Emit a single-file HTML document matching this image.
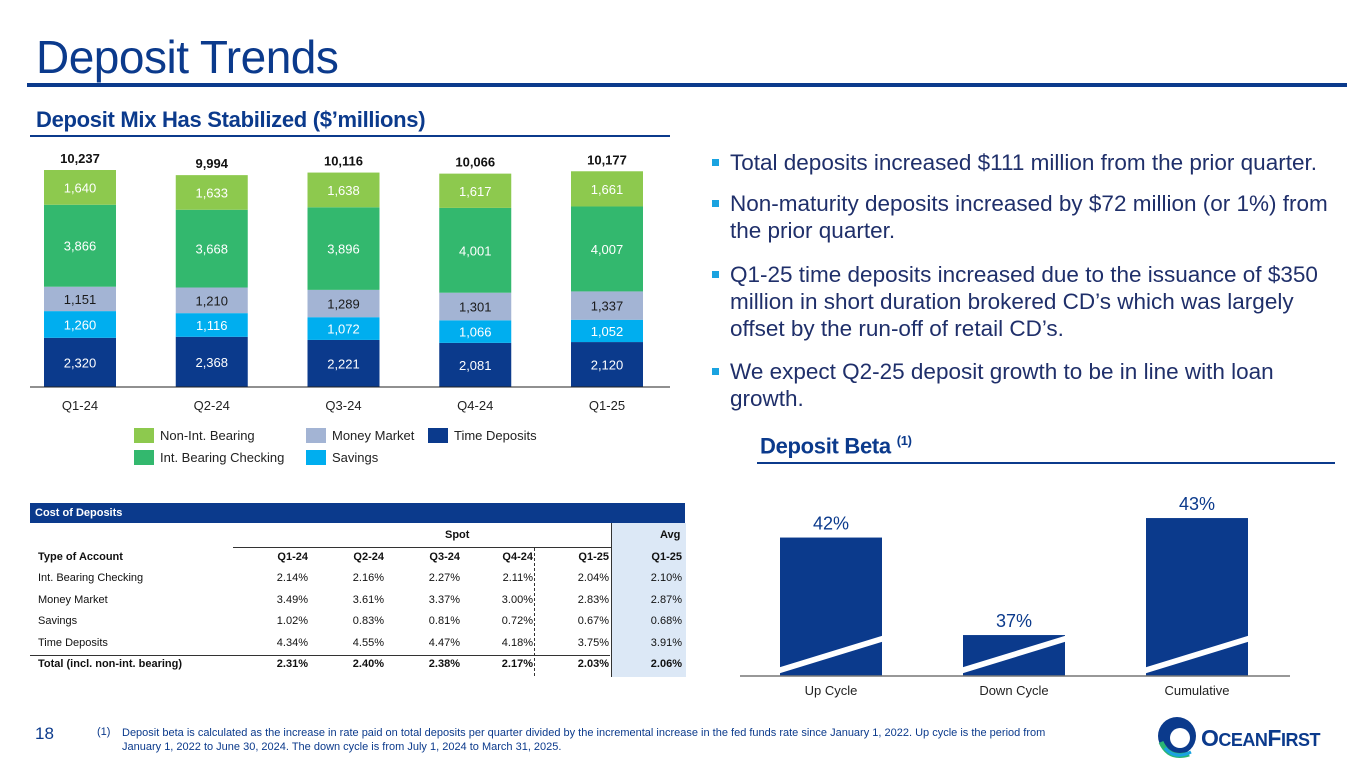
<!DOCTYPE html>
<html><head><meta charset="utf-8">
<style>
body{margin:0;width:1365px;height:768px;position:relative;background:#fff;font-family:"Liberation Sans",Arial,sans-serif;overflow:hidden;color:#1a2f6b}
.abs{position:absolute}
.title{left:36px;top:30px;font-size:46px;color:#0b3a8c;letter-spacing:-0.5px}
.sub{font-weight:bold;font-size:22px;color:#0b3a8c;letter-spacing:-0.3px}
.bul{position:absolute;left:712px;font-size:22.5px;color:#1f2f6a;line-height:27px;width:630px}
.bul .sq{position:absolute;left:0;top:10px;width:7px;height:7px;background:#1aa3e0}
.bul p{margin:0 0 0 18px}
table{border-collapse:collapse;font-size:11px;color:#111;table-layout:fixed}
td{padding:0;height:21.5px;text-align:right;white-space:nowrap}
</style></head><body>
<div class="abs title">Deposit Trends</div>
<div class="abs" style="left:27px;top:83px;width:1320px;height:4px;background:#0b3a8c"></div>
<div class="abs sub" style="left:36px;top:107px">Deposit Mix Has Stabilized ($’millions)</div>
<div class="abs" style="left:30px;top:135px;width:640px;height:2px;background:#0b3a8c"></div>

<svg id="mix" class="abs" style="left:0;top:0" width="700" height="480"></svg>

<div class="bul" style="top:149px"><span class="sq"></span><p>Total deposits increased $111 million from the prior quarter.</p></div>
<div class="bul" style="top:190px"><span class="sq"></span><p>Non-maturity deposits increased by $72 million (or 1%) from the prior quarter.</p></div>
<div class="bul" style="top:261px"><span class="sq"></span><p>Q1-25 time deposits increased due to the issuance of $350 million in short duration brokered CD’s which was largely offset by the run-off of retail CD’s.</p></div>
<div class="bul" style="top:358px"><span class="sq"></span><p>We expect Q2-25 deposit growth to be in line with loan growth.</p></div>

<div class="abs sub" style="left:760px;top:433px">Deposit Beta <sup style="font-size:13px">(1)</sup></div>
<div class="abs" style="left:757px;top:462px;width:578px;height:2px;background:#0b3a8c"></div>
<svg id="beta" class="abs" style="left:740px;top:480px" width="600" height="225"></svg>

<div class="abs" style="left:30px;top:503px;width:655px;height:20px;background:#0b3a8c;color:#fff;font-weight:bold;font-size:11px;line-height:20px;padding-left:5px;box-sizing:border-box">Cost of Deposits</div>
<div class="abs" style="left:611px;top:523px;width:74px;height:154px;background:#dce8f6;border-left:1px solid #333"></div>
<div class="abs" style="left:534px;top:548px;width:0;height:128px;border-left:1px dashed #333"></div>
<div class="abs" style="left:233px;top:547px;width:378px;height:1px;background:#333"></div>
<div class="abs" style="left:30px;top:655px;width:580px;height:1px;background:#333"></div>
<div class="abs" style="left:445px;top:529px;font-size:11px;font-weight:bold;color:#111">Spot</div>
<div class="abs" style="left:660px;top:529px;font-size:11px;font-weight:bold;color:#111">Avg</div>
<table class="abs" style="left:38px;top:546px;width:644px">
<colgroup><col style="width:195px"><col style="width:75px"><col style="width:76px"><col style="width:76px"><col style="width:73px"><col style="width:76px"><col style="width:73px"></colgroup>
<tr style="font-weight:bold"><td style="text-align:left">Type of Account</td><td>Q1-24</td><td>Q2-24</td><td>Q3-24</td><td>Q4-24</td><td>Q1-25</td><td>Q1-25</td></tr>
<tr><td style="text-align:left">Int. Bearing Checking</td><td>2.14%</td><td>2.16%</td><td>2.27%</td><td>2.11%</td><td>2.04%</td><td>2.10%</td></tr>
<tr><td style="text-align:left">Money Market</td><td>3.49%</td><td>3.61%</td><td>3.37%</td><td>3.00%</td><td>2.83%</td><td>2.87%</td></tr>
<tr><td style="text-align:left">Savings</td><td>1.02%</td><td>0.83%</td><td>0.81%</td><td>0.72%</td><td>0.67%</td><td>0.68%</td></tr>
<tr><td style="text-align:left">Time Deposits</td><td>4.34%</td><td>4.55%</td><td>4.47%</td><td>4.18%</td><td>3.75%</td><td>3.91%</td></tr>
<tr style="font-weight:bold"><td style="text-align:left">Total (incl. non-int. bearing)</td><td>2.31%</td><td>2.40%</td><td>2.38%</td><td>2.17%</td><td>2.03%</td><td>2.06%</td></tr>
</table>

<div class="abs" style="left:35px;top:724px;font-size:17px;color:#0b3a8c">18</div>
<div class="abs" style="left:97px;top:726px;font-size:11px;color:#0b3a8c">(1)</div>
<div class="abs" style="left:122px;top:726px;width:955px;font-size:11px;line-height:14px;color:#0b3a8c">Deposit beta is calculated as the increase in rate paid on total deposits per quarter divided by the incremental increase in the fed funds rate since January 1, 2022. Up cycle is the period from January 1, 2022 to June 30, 2024. The down cycle is from July 1, 2024 to March 31, 2025.</div>

<svg class="abs" style="left:1155px;top:712px" width="190" height="50">
<circle cx="22" cy="24" r="19" fill="#0b3a8c"/>
<circle cx="25" cy="26" r="10" fill="#fff"/>
<path d="M6 30 Q14 48 34 42" stroke="#2bb673" stroke-width="5" fill="none"/>
<path d="M10 36 Q20 48 36 40" stroke="#1aa3e0" stroke-width="3" fill="none"/>
<text x="46" y="34" font-family="Liberation Sans" font-weight="bold" font-size="23" fill="#0b3a8c" letter-spacing="-0.5">O<tspan font-size="18">CEAN</tspan>F<tspan font-size="18">IRST</tspan></text>
</svg>

<script>
const quarters=["Q1-24","Q2-24","Q3-24","Q4-24","Q1-25"];
const timeDeposits=[2320,2368,2221,2081,2120];
const savings=[1260,1116,1072,1066,1052];
const moneyMarket=[1151,1210,1289,1301,1337];
const intBearing=[3866,3668,3896,4001,4007];
const nonIntBearing=[1640,1633,1638,1617,1661];
const totals=[10237,9994,10116,10066,10177];
const seriesNames=["Time Deposits","Savings","Money Market","Int. Bearing Checking","Non-Int. Bearing"];

const betaCats=["Up Cycle","Down Cycle","Cumulative"];
const betaVals=[42,37,43];

const NS="http://www.w3.org/2000/svg";
function mk(p,t,a){const e=document.createElementNS(NS,t);for(const k in a)e.setAttribute(k,a[k]);p.appendChild(e);return e;}
function fmt(v){return v.toLocaleString("en-US");}

(function(){
 const svg=document.getElementById("mix");
 const base=387,scale=217/10237,x0=80,step=131.75,bw=72;
 const y=v=>base-v*scale, xc=i=>x0+i*step;
 const series=[timeDeposits,savings,moneyMarket,intBearing,nonIntBearing];
 const colors=["#0b3a8c","#00aeef","#a3b4d4","#33b86e","#8dc94e"];
 const txt=["#fff","#fff","#1a1a1a","#fff","#fff"];
 quarters.forEach((q,i)=>{
  let cum=0;
  series.forEach((s,k)=>{
   const r=mk(svg,"rect",{x:xc(i)-bw/2,y:y(cum+s[i]),width:bw,height:s[i]*scale,fill:colors[k]});
   
   
   const t=mk(svg,"text",{x:xc(i),y:y(cum+s[i]/2)+5,"text-anchor":"middle","font-size":13,fill:txt[k]});
   t.textContent=fmt(s[i]);
   
   
   cum+=s[i];
  });
  const tt=mk(svg,"text",{x:xc(i),y:y(totals[i])-7,"text-anchor":"middle","font-size":13,"font-weight":"bold",fill:"#111"});
  tt.textContent=fmt(totals[i]);
  
  
  const xl=mk(svg,"text",{x:xc(i),y:410,"text-anchor":"middle","font-size":13,fill:"#222"});
  xl.textContent=q;
  
  
 });
 const ax=mk(svg,"line",{x1:30,x2:670,y1:base,y2:base,stroke:"#222","stroke-width":1});
 
 
 const leg=[[4,"#8dc94e",134,428],[2,"#a3b4d4",306,428],[0,"#0b3a8c",428,428],[3,"#33b86e",134,450],[1,"#00aeef",306,450]];
 leg.forEach(l=>{
  const r=mk(svg,"rect",{x:l[2],y:l[3],width:20,height:15,fill:l[1]});
  
  
  const t=mk(svg,"text",{x:l[2]+26,y:l[3]+12,"font-size":13,fill:"#222"});
  t.textContent=seriesNames[l[0]];
  
  
 });
})();

(function(){
 const svg=document.getElementById("beta");
 const base=196,ppu=19.5,floorV=34.9,bw=102,x0=91,step=183;
 const y=v=>base-(v-floorV)*ppu, xc=i=>x0+i*step;
 betaCats.forEach((c,i)=>{
  const r=mk(svg,"rect",{x:xc(i)-bw/2,y:y(betaVals[i]),width:bw,height:base-y(betaVals[i]),fill:"#0b3a8c"});
  
  
  const b=mk(svg,"polygon",{points:`${xc(i)-bw/2-6},${base-7} ${xc(i)+bw/2+6},${base-42} ${xc(i)+bw/2+6},${base-36} ${xc(i)-bw/2-6},${base-1}`,fill:"#fff"});
  
  
  const t=mk(svg,"text",{x:xc(i),y:y(betaVals[i])-8,"text-anchor":"middle","font-size":18,fill:"#0b3a8c"});
  t.textContent=betaVals[i]+"%";
  
  
  const xl=mk(svg,"text",{x:xc(i),y:215,"text-anchor":"middle","font-size":13,fill:"#222"});
  xl.textContent=c;
  
  
 });
 const ax=mk(svg,"line",{x1:0,x2:550,y1:base,y2:base,stroke:"#777","stroke-width":1.5});
 
 
})();
</script>
</body></html>
